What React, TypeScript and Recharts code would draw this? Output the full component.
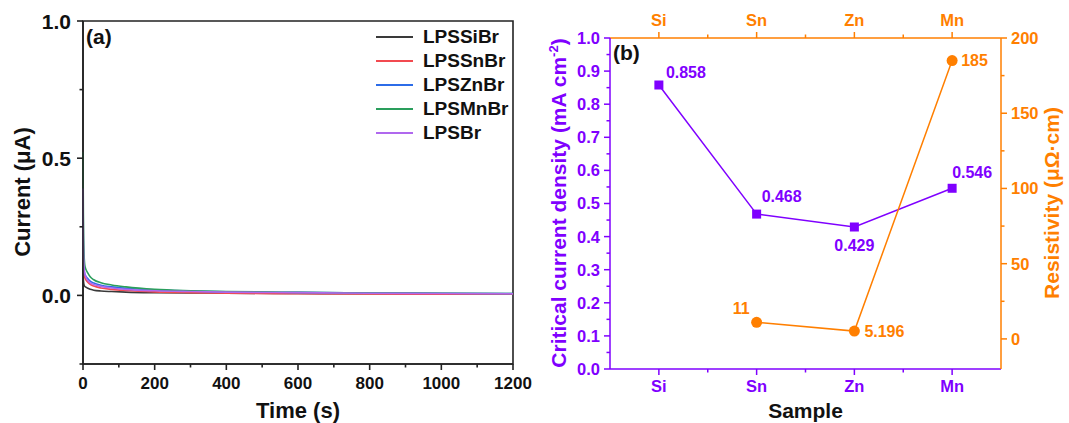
import React from 'react';
import {
  LineChart,
  ComposedChart,
  Line,
  XAxis,
  YAxis,
  ReferenceLine,
  ReferenceArea,
  LabelList,
  Label,
} from 'recharts';

const FONT = 'Arial, "Liberation Sans", Helvetica, sans-serif';

// ---------- Panel (a): current vs time ----------
const timeS = [0, 1, 2, 3, 5, 8, 12, 20, 30, 50, 80, 120, 200, 300, 400, 600, 800, 1000, 1200];
const curSiBr = [0.12, 0.06, 0.045, 0.038, 0.033, 0.03, 0.027, 0.022, 0.019, 0.016, 0.014, 0.012, 0.01, 0.009, 0.008, 0.007, 0.006, 0.006, 0.005];
const curSnBr = [0.25, 0.14, 0.1, 0.08, 0.065, 0.057, 0.05, 0.04, 0.034, 0.027, 0.022, 0.018, 0.013, 0.01, 0.008, 0.006, 0.005, 0.0045, 0.004];
const curZnBr = [0.3, 0.17, 0.12, 0.095, 0.078, 0.07, 0.063, 0.052, 0.045, 0.037, 0.031, 0.026, 0.02, 0.016, 0.013, 0.011, 0.009, 0.008, 0.007];
const curMnBr = [0.523, 0.3, 0.2, 0.15, 0.11, 0.095, 0.085, 0.068, 0.057, 0.046, 0.038, 0.031, 0.022, 0.017, 0.014, 0.011, 0.009, 0.008, 0.007];
const curBr = [0.39, 0.2, 0.13, 0.1, 0.08, 0.067, 0.057, 0.046, 0.04, 0.033, 0.027, 0.022, 0.017, 0.014, 0.012, 0.01, 0.008, 0.007, 0.006];

const seriesA = [
  { name: 'LPSSiBr', values: curSiBr, color: '#3a3a3a' },
  { name: 'LPSSnBr', values: curSnBr, color: '#f24a50' },
  { name: 'LPSZnBr', values: curZnBr, color: '#2c6ce8' },
  { name: 'LPSMnBr', values: curMnBr, color: '#2a9e5c' },
  { name: 'LPSBr', values: curBr, color: '#b068ee' },
];

const timeTicks = [0, 100, 200, 300, 400, 500, 600, 700, 800, 900, 1000, 1100, 1200];
const currentTicks = [-0.25, 0, 0.25, 0.5, 0.75, 1.0];

const dataA = timeS.map((t, i) => {
  const row: Record<string, number> = { t };
  seriesA.forEach((s) => {
    row[s.name] = s.values[i];
  });
  return row;
});

// ---------- Panel (b): critical current density & resistivity ----------
const samples = ['Si', 'Sn', 'Zn', 'Mn'];
const jcValues = [0.858, 0.468, 0.429, 0.546];
const rhoValues: (number | null)[] = [null, 11, 5.196, 185];
const jcTicks = [0, 0.05, 0.1, 0.15, 0.2, 0.25, 0.3, 0.35, 0.4, 0.45, 0.5, 0.55, 0.6, 0.65, 0.7, 0.75, 0.8, 0.85, 0.9, 0.95, 1.0];
const rhoTicks = [0, 25, 50, 75, 100, 125, 150, 175, 200];

const dataB = samples.map((s, i) => ({ sample: s, jc: jcValues[i], rho: rhoValues[i] }));

const PURPLE = '#7f00ff';
const ORANGE = '#ff7f00';
const AXIS_A = '#222222';

// layout
const A_W = 545;
const A_H = 423;
const A_LEFT = 83;
const A_RIGHT = 32;
const A_TOP = 21;
const A_BOTTOM = 59;

const B_X = 530;
const B_W = 539;
const B_H = 423;
const B_LEFT = 80;
const B_RIGHT = 68;
const B_TOP = 38;
const B_BOTTOM = 54;
const B_BAND = (B_W - B_LEFT - B_RIGHT) / samples.length;

const isMultiple = (v: number, step: number) => Math.abs(v / step - Math.round(v / step)) < 1e-6;

// ---------- tick renderers ----------
const ATimeTick = (p: any) => {
  const { x, y, payload } = p;
  const major = isMultiple(payload.value, 200);
  return (
    <g>
      <line x1={x} x2={x} y1={y} y2={y + (major ? 6 : 3.5)} stroke={AXIS_A} strokeWidth={1.6} />
      {major && (
        <text x={x} y={y + 19} dy="0.36em" textAnchor="middle" fontSize={17} fontWeight="bold" fontFamily={FONT} fill="#111">
          {payload.value}
        </text>
      )}
    </g>
  );
};

const ACurrentTick = (p: any) => {
  const { x, y, payload } = p;
  const major = isMultiple(payload.value, 0.5);
  return (
    <g>
      <line x1={x - (major ? 6 : 3.5)} x2={x} y1={y} y2={y} stroke={AXIS_A} strokeWidth={1.6} />
      {major && (
        <text x={x - 12} y={y} dy="0.36em" textAnchor="end" fontSize={21} fontWeight="bold" fontFamily={FONT} fill="#111">
          {payload.value.toFixed(1)}
        </text>
      )}
    </g>
  );
};

const makeCategoryTick = (color: string, side: 'top' | 'bottom') => (p: any) => {
  const { x, y, payload, index } = p;
  const dir = side === 'bottom' ? 1 : -1;
  const last = index === samples.length - 1;
  return (
    <g>
      <line x1={x} x2={x} y1={y} y2={y + dir * 6} stroke={color} strokeWidth={1.5} />
      {!last && (
        <line x1={x + B_BAND / 2} x2={x + B_BAND / 2} y1={y} y2={y + dir * 3.5} stroke={color} strokeWidth={1.5} />
      )}
      <text
        x={x}
        y={side === 'bottom' ? y + 17.5 : y - 18}
        dy="0.36em"
        textAnchor="middle"
        fontSize={16.5}
        fontWeight="bold"
        fontFamily={FONT}
        fill={color}
      >
        {payload.value}
      </text>
    </g>
  );
};

const BBottomTick = makeCategoryTick(PURPLE, 'bottom');
const BTopTick = makeCategoryTick(ORANGE, 'top');

const BJcTick = (p: any) => {
  const { x, y, payload } = p;
  const major = isMultiple(payload.value, 0.1);
  return (
    <g>
      <line x1={x - (major ? 6 : 3.5)} x2={x} y1={y} y2={y} stroke={PURPLE} strokeWidth={1.5} />
      {major && (
        <text x={x - 10} y={y} dy="0.36em" textAnchor="end" fontSize={16.5} fontWeight="bold" fontFamily={FONT} fill={PURPLE}>
          {payload.value.toFixed(1)}
        </text>
      )}
    </g>
  );
};

const BRhoTick = (p: any) => {
  const { x, y, payload } = p;
  const major = isMultiple(payload.value, 50);
  return (
    <g>
      <line x1={x} x2={x + (major ? 6 : 3.5)} y1={y} y2={y} stroke={ORANGE} strokeWidth={1.5} />
      {major && (
        <text x={x + 10} y={y} dy="0.36em" textAnchor="start" fontSize={16.5} fontWeight="bold" fontFamily={FONT} fill={ORANGE}>
          {payload.value}
        </text>
      )}
    </g>
  );
};

// ---------- markers & value labels ----------
const SquareDot = (p: any) => {
  const { cx, cy, index } = p;
  if (cx == null || cy == null) return <g key={`sq-${index}`} />;
  return <rect key={`sq-${index}`} x={cx - 4.5} y={cy - 4.5} width={9} height={9} fill={PURPLE} />;
};

const CircleDot = (p: any) => {
  const { cx, cy, index } = p;
  if (cx == null || cy == null) return <g key={`ci-${index}`} />;
  return <circle key={`ci-${index}`} cx={cx} cy={cy} r={5.5} fill={ORANGE} />;
};

type LabelPlace = { dx: number; dy: number; anchor: 'start' | 'middle' | 'end' };
const jcPlace: LabelPlace[] = [
  { dx: 7, dy: -13, anchor: 'start' },
  { dx: 5, dy: -18, anchor: 'start' },
  { dx: 0, dy: 18, anchor: 'middle' },
  { dx: 0, dy: -16, anchor: 'start' },
];
const rhoPlace: LabelPlace[] = [
  { dx: 0, dy: 0, anchor: 'start' },
  { dx: -7, dy: -14, anchor: 'end' },
  { dx: 10, dy: 0, anchor: 'start' },
  { dx: 9, dy: 0, anchor: 'start' },
];

const makeValueLabel = (places: LabelPlace[], color: string) => (p: any) => {
  const { x, y, value, index } = p;
  if (value == null || x == null || y == null) return null;
  const pl = places[index];
  return (
    <text
      x={x + pl.dx}
      y={y + pl.dy}
      dy="0.36em"
      textAnchor={pl.anchor}
      fontSize={16}
      fontWeight="bold"
      fontFamily={FONT}
      fill={color}
    >
      {String(value)}
    </text>
  );
};

// ---------- legend for panel (a), placed inside the plot's upper right ----------
const LegendA = () => (
  <div
    style={{
      position: 'absolute',
      left: 376,
      top: 24.6,
      fontFamily: FONT,
      fontWeight: 'bold',
      fontSize: 19,
      color: '#111',
      pointerEvents: 'none',
    }}
  >
    {seriesA.map((s) => (
      <div key={s.name} style={{ display: 'flex', alignItems: 'center', height: 24.2, lineHeight: '24.2px' }}>
        <svg width={37} height={4} style={{ marginRight: 10, display: 'block' }}>
          <line x1={0} x2={37} y1={2} y2={2} stroke={s.color} strokeWidth={2} />
        </svg>
        <span>{s.name}</span>
      </div>
    ))}
  </div>
);

export default function App() {
  return (
    <div style={{ position: 'absolute', left: 0, top: 0, width: 1069, height: 423, background: '#fff' }}>
      <div style={{ position: 'absolute', left: B_X, top: 0 }}>
        <ComposedChart width={B_W} height={B_H} data={dataB} margin={{ top: 0, right: 0, bottom: 0, left: 0 }}>
          <XAxis
            xAxisId="bottom"
            dataKey="sample"
            type="category"
            scale="band"
            orientation="bottom"
            height={B_BOTTOM}
            interval={0}
            stroke={PURPLE}
            strokeWidth={1.5}
            tickSize={0}
            tickMargin={0}
            tick={BBottomTick}
          >
            <Label
              content={() => (
                <text x={B_LEFT + (B_W - B_LEFT - B_RIGHT) / 2} y={410} dy="0.36em" textAnchor="middle" fontSize={21} fontWeight="bold" fontFamily={FONT} fill="#111">
                  Sample
                </text>
              )}
            />
          </XAxis>
          <XAxis
            xAxisId="top"
            dataKey="sample"
            type="category"
            scale="band"
            orientation="top"
            height={B_TOP}
            interval={0}
            stroke={ORANGE}
            strokeWidth={1.5}
            tickSize={0}
            tickMargin={0}
            tick={BTopTick}
          />
          <YAxis
            yAxisId="left"
            type="number"
            domain={[0, 1]}
            ticks={jcTicks}
            interval={0}
            width={B_LEFT}
            stroke={PURPLE}
            strokeWidth={1.5}
            tickSize={0}
            tickMargin={0}
            tick={BJcTick}
          >
            <Label
              content={() => (
                <text
                  x={28}
                  y={203}
                  dy="0.36em"
                  transform="rotate(-90 28 203)"
                  textAnchor="middle"
                  fontSize={21}
                  fontWeight="bold"
                  fontFamily={FONT}
                  fill={PURPLE}
                >
                  Critical current density (mA cm
                  <tspan fontSize={13} dy={-8}>-2</tspan>
                  <tspan dy={8}>)</tspan>
                </text>
              )}
            />
          </YAxis>
          <YAxis
            yAxisId="right"
            orientation="right"
            type="number"
            domain={[-20, 200]}
            ticks={rhoTicks}
            interval={0}
            width={B_RIGHT}
            stroke={ORANGE}
            strokeWidth={1.5}
            tickSize={0}
            tickMargin={0}
            tick={BRhoTick}
          >
            <Label
              content={() => (
                <text
                  x={521}
                  y={203}
                  dy="0.36em"
                  transform="rotate(-90 521 203)"
                  textAnchor="middle"
                  fontSize={21}
                  fontWeight="bold"
                  fontFamily={FONT}
                  fill={ORANGE}
                >
                  Resistivity (μΩ·cm)
                </text>
              )}
            />
          </YAxis>
          <Line
            xAxisId="bottom"
            yAxisId="left"
            dataKey="jc"
            type="linear"
            stroke={PURPLE}
            strokeWidth={1.5}
            dot={SquareDot}
            activeDot={false}
            isAnimationActive={false}
          >
            <LabelList dataKey="jc" content={makeValueLabel(jcPlace, PURPLE)} />
          </Line>
          <Line
            xAxisId="bottom"
            yAxisId="right"
            dataKey="rho"
            type="linear"
            stroke={ORANGE}
            strokeWidth={1.5}
            dot={CircleDot}
            activeDot={false}
            isAnimationActive={false}
          >
            <LabelList dataKey="rho" content={makeValueLabel(rhoPlace, ORANGE)} />
          </Line>
          <ReferenceLine
            xAxisId="bottom"
            yAxisId="left"
            y={1}
            stroke="none"
            label={() => (
              <text x={83} y={60} fontSize={21} fontWeight="bold" fontFamily={FONT} fill="#111">
                (b)
              </text>
            )}
          />
        </ComposedChart>
      </div>

      <div style={{ position: 'absolute', left: 0, top: 0, width: A_W, height: A_H }}>
        <LineChart
          width={A_W}
          height={A_H}
          data={dataA}
          margin={{ top: A_TOP, right: A_RIGHT, bottom: 0, left: 0 }}
        >
          <XAxis
            dataKey="t"
            type="number"
            domain={[0, 1200]}
            ticks={timeTicks}
            interval={0}
            height={A_BOTTOM}
            stroke={AXIS_A}
            strokeWidth={1.6}
            tickSize={0}
            tickMargin={0}
            tick={ATimeTick}
          >
            <Label
              content={() => (
                <text x={298} y={410} dy="0.36em" textAnchor="middle" fontSize={22} fontWeight="bold" fontFamily={FONT} fill="#111">
                  Time (s)
                </text>
              )}
            />
          </XAxis>
          <YAxis
            type="number"
            domain={[-0.25, 1.0]}
            ticks={currentTicks}
            interval={0}
            width={A_LEFT}
            stroke={AXIS_A}
            strokeWidth={1.6}
            tickSize={0}
            tickMargin={0}
            tick={ACurrentTick}
          >
            <Label
              content={() => (
                <text
                  x={22}
                  y={192}
                  dy="0.36em"
                  transform="rotate(-90 22 192)"
                  textAnchor="middle"
                  fontSize={22}
                  fontWeight="bold"
                  fontFamily={FONT}
                  fill="#111"
                >
                  Current (μA)
                </text>
              )}
            />
          </YAxis>
          {/* outline of the whole plot box; left and bottom coincide with the axes */}
          <ReferenceArea
            x1={0}
            x2={1200}
            y1={-0.25}
            y2={1.0}
            fill="none"
            fillOpacity={0}
            stroke={AXIS_A}
            strokeWidth={1.6}
            strokeOpacity={1}
            ifOverflow="visible"
          />
          {seriesA.map((s) => (
            <Line
              key={s.name}
              dataKey={s.name}
              name={s.name}
              type="monotone"
              stroke={s.color}
              strokeWidth={1.6}
              dot={false}
              isAnimationActive={false}
            />
          ))}
          <ReferenceLine
            y={1.0}
            stroke="none"
            label={() => (
              <text x={86} y={44} fontSize={21} fontWeight="bold" fontFamily={FONT} fill="#111">
                (a)
              </text>
            )}
          />
        </LineChart>
        <LegendA />
      </div>
    </div>
  );
}
